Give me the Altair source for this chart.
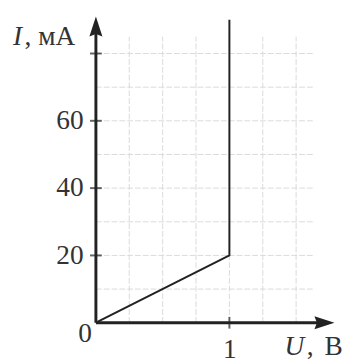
import altair as alt
import pandas as pd

# --- data ---
U_V = [0, 1, 1]            # voltage, V
I_mA = [0, 20, 90]         # current, mA

y_tick_values = [20, 40, 60, 80]
y_label_values = [20, 40, 60]
x_tick_values = [1]

grid_u = [0.25, 0.5, 0.75, 1.0, 1.25, 1.5]
grid_i = [10, 20, 30, 40, 50, 60, 70, 80]
grid_u_end = 1.64
grid_i_end = 85

axis_u_end = 1.712   # centre of x arrow head
axis_i_end = 88      # centre of y arrow head

FONT = "Liberation Serif"
INK = "#222222"
TXT = "#333333"

xs = alt.Scale(domain=[0, 1.8], nice=False, zero=False)
ys = alt.Scale(domain=[0, 92], nice=False, zero=False)

vgrid = alt.Chart(pd.DataFrame({"u": grid_u, "i0": 0, "i1": grid_i_end})).mark_rule(
    color="#dadada", strokeWidth=1, strokeDash=[6, 2]
).encode(
    x=alt.X("u:Q", scale=xs, axis=alt.Axis(values=x_tick_values, format="d", domain=False,
                                           ticks=False, grid=False, title=None, labelFont=FONT,
                                           labelFontSize=28, labelColor=TXT,
                                           labelPadding=14, tickSize=0)),
    y=alt.Y("i0:Q", scale=ys, axis=alt.Axis(values=y_label_values, format="d", domain=False,
                                            ticks=False, grid=False, title=None, labelFont=FONT,
                                            labelFontSize=28, labelColor=TXT,
                                            labelPadding=13, tickSize=0)),
    y2="i1:Q",
)

hgrid = alt.Chart(pd.DataFrame({"i": grid_i, "u0": 0, "u1": grid_u_end})).mark_rule(
    color="#dadada", strokeWidth=1, strokeDash=[6, 2]
).encode(
    y=alt.Y("i:Q", scale=ys),
    x=alt.X("u0:Q", scale=xs),
    x2="u1:Q",
)

yaxis_line = alt.Chart(pd.DataFrame({"u": [0], "i0": [0], "i1": [axis_i_end - 2]})).mark_rule(
    color=INK, strokeWidth=3
).encode(x=alt.X("u:Q", scale=xs), y=alt.Y("i0:Q", scale=ys), y2="i1:Q")

xaxis_line = alt.Chart(pd.DataFrame({"i": [0], "u0": [0], "u1": [axis_u_end - 0.01]})).mark_rule(
    color=INK, strokeWidth=3
).encode(y=alt.Y("i:Q", scale=ys), x=alt.X("u0:Q", scale=xs), x2="u1:Q")

y_arrow = alt.Chart(pd.DataFrame({"u": [0], "i": [axis_i_end]})).mark_point(
    shape="M0,-1L0.65,1L0,0.75L-0.65,1Z", size=420, filled=True, opacity=1, color=INK
).encode(x=alt.X("u:Q", scale=xs), y=alt.Y("i:Q", scale=ys))

x_arrow = alt.Chart(pd.DataFrame({"u": [axis_u_end], "i": [0]})).mark_point(
    shape="M1,0L-1,-0.65L-0.75,0L-1,0.65Z", size=420, filled=True, opacity=1, color=INK
).encode(x=alt.X("u:Q", scale=xs), y=alt.Y("i:Q", scale=ys))

y_ticks = alt.Chart(pd.DataFrame({"u": 0, "i": y_tick_values})).mark_tick(
    orient="horizontal", size=12, thickness=2, color=INK
).encode(x=alt.X("u:Q", scale=xs), y=alt.Y("i:Q", scale=ys))

x_ticks = alt.Chart(pd.DataFrame({"u": x_tick_values, "i": 0})).mark_tick(
    orient="vertical", size=12, thickness=2, color=INK
).encode(x=alt.X("u:Q", scale=xs), y=alt.Y("i:Q", scale=ys))

curve = alt.Chart(pd.DataFrame({"U": U_V, "I": I_mA, "k": range(len(U_V))})).mark_line(
    color=INK, strokeWidth=2
).encode(x=alt.X("U:Q", scale=xs), y=alt.Y("I:Q", scale=ys), order="k:Q")


def label(u, i, text, dx, dy, italic=False, align="left"):
    return alt.Chart(pd.DataFrame({"u": [u], "i": [i], "t": [text]})).mark_text(
        font=FONT, fontSize=28, color=TXT, align=align, baseline="alphabetic",
        dx=dx, dy=dy, fontStyle="italic" if italic else "normal"
    ).encode(x=alt.X("u:Q", scale=xs), y=alt.Y("i:Q", scale=ys), text="t:N")


texts = [
    label(0, axis_i_end, "I", -85, 19, italic=True),
    label(0, axis_i_end, ", мА", -73, 19),
    label(axis_u_end, 0, "U", -41, 33, italic=True),
    label(axis_u_end, 0, ",", -18, 33),
    label(axis_u_end, 0, "В", 0, 33),
    label(0, 0, "0", -4, 20, align="right"),
]

chart = alt.layer(
    vgrid, hgrid, curve, yaxis_line, xaxis_line, y_arrow, x_arrow, y_ticks, x_ticks, *texts
).properties(
    width=246, height=317,
    padding={"left": 90, "top": 1, "right": 8, "bottom": 38},
    autosize=alt.AutoSizeParams(type="none"),
).configure_view(stroke=None).configure_axis(grid=False)

chart.save("out.html", embed_options={"renderer": "svg", "actions": False})
